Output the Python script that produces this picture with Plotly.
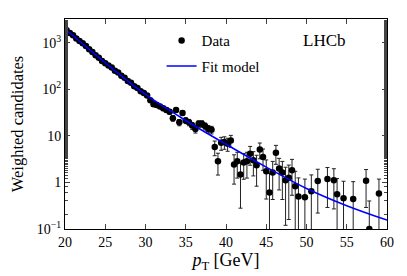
import plotly.graph_objects as go

# Data: bin centres (GeV), weighted candidates and errors
pt = [20.2, 20.6, 21.0, 21.4, 21.8, 22.2, 22.6, 23.0, 23.4, 23.8,
      24.2, 24.6, 25.0, 25.4, 25.8, 26.2, 26.6, 27.0, 27.4, 27.8,
      28.2, 28.6, 29.0, 29.4, 29.8, 30.2, 30.6, 31.0, 31.4, 31.8,
      32.2, 32.6, 33.0, 33.4, 33.8, 34.2, 34.6, 35.0, 35.4, 35.8,
      36.2, 36.6, 37.0, 37.4, 37.8, 38.2, 38.6, 39.0, 39.4, 39.8,
      40.2, 40.6, 41.0, 41.4, 41.8, 42.2, 42.6, 43.0, 43.4, 43.8,
      44.2, 44.6, 45.0, 45.4, 45.8, 46.2, 46.6, 47.0, 47.4, 47.8,
      48.2, 48.6, 49.0, 49.8, 50.6, 51.4, 52.6, 53.4, 53.8, 54.6,
      55.8, 57.4, 57.8, 59.0]
counts = [1862, 1622, 1445, 1230, 1096, 977, 851, 724, 631, 537,
          479, 407, 363, 324, 295, 251, 229, 195, 178, 151,
          138, 117, 107, 91, 83, 74, 58, 48, 46, 43,
          39, 36, 33, 24, 36, 19.5, 31, 21.4, 19.5, 16.6,
          14.1, 18.2, 18.2, 16.2, 14.1, 13.5, 5.75, 2.84, 7.1, 7.35,
          6.76, 7.94, 2.42, 2.84, 1.48, 2.67, 2.84, 4.14, 2.98, 2.33,
          5.12, 3.52, 1.74, 0.61, 1.63, 4.35, 1.99, 1.63, 1.12, 1.26,
          1.83, 0.83, 0.50, 0.48, 0.65, 1.07, 1.19, 1.12, 0.56, 0.46,
          0.44, 1.09, 0.10, 0.58]
errors = [30, 28, 26, 24, 22, 21, 20, 18, 17, 16,
          15, 14, 13, 12, 12, 11, 10, 9.5, 9, 8.3,
          8, 7.2, 7, 6.4, 6.1, 5.8, 5.1, 4.7, 4.6, 4.4,
          4.2, 4.0, 3.9, 3.3, 4.0, 3.0, 3.7, 3.1, 3.0, 2.8,
          2.6, 2.9, 2.9, 2.7, 2.6, 2.5, 2.0, 1.4, 2.2, 2.2,
          2.1, 2.3, 1.5, 1.6, 1.2, 1.5, 1.6, 1.8, 1.6, 1.5,
          1.9, 1.7, 1.3, 0.95, 1.2, 1.9, 1.3, 1.2, 1.0, 1.1,
          1.3, 0.9, 0.75, 0.7, 0.8, 0.85, 0.9, 0.85, 0.65, 0.6,
          0.6, 0.8, 0.3, 0.6]

# Fit model sampled along pT
fit_pt = [20, 25, 30, 35, 40, 45, 50, 55, 60]
fit_val = [1995, 372, 77.6, 21.4, 6.61, 2.14, 0.741, 0.316, 0.155]

ytick_vals = [0.1, 1, 10, 100, 1000]
ytick_text = ["10<sup>\u22121</sup>", "1", "10", "10<sup>2</sup>", "10<sup>3</sup>"]
xtick_vals = [20, 25, 30, 35, 40, 45, 50, 55, 60]

font_family = "Liberation Serif"

fig = go.Figure()
fig.add_trace(go.Scatter(
    x=pt, y=counts, mode="markers", name="Data",
    marker=dict(color="black", size=6.5),
    error_y=dict(type="data", array=errors, color="#222222", thickness=1, width=2),
    legendgroup="a",
))
fig.add_trace(go.Scatter(
    x=fit_pt, y=fit_val, mode="lines", name="Fit model",
    line=dict(color="#0000ff", width=1.5, shape="spline"),
    legendgroup="b",
))

fig.add_annotation(text="LHCb", x=0.807, y=0.90, xref="paper", yref="paper",
                   xanchor="center", yanchor="middle",
                   showarrow=False, font=dict(size=17, family=font_family, color="black"))

fig.update_layout(
    width=407, height=276,
    margin=dict(l=65, r=20, t=19, b=45),
    paper_bgcolor="white", plot_bgcolor="white",
    font=dict(family=font_family, size=14, color="black"),
    showlegend=True,
    legend=dict(x=0.30, y=0.975, xanchor="left", yanchor="top",
                bgcolor="rgba(0,0,0,0)", traceorder="grouped", tracegroupgap=3,
                font=dict(size=15, family=font_family)),
    xaxis=dict(range=[20, 60], tickvals=xtick_vals, ticks="inside", ticklen=5,
               showline=True, linecolor="black", linewidth=1, mirror="ticks",
               showgrid=False, zeroline=False,
               title=dict(text="<i>p</i><sub>T</sub> [GeV]", standoff=2, font=dict(size=18))),
    yaxis=dict(type="log", range=[-1, 3.51], tickvals=ytick_vals, ticktext=ytick_text,
               ticks="inside", ticklen=5,
               showline=True, linecolor="black", linewidth=1, mirror="ticks",
               showgrid=False, zeroline=False,
               title=dict(text="Weighted candidates", standoff=8, font=dict(size=16.5)),
               minor=dict(ticks="inside", ticklen=3, showgrid=False)),
)

fig.write_html("out.html", post_script="document.body.style.margin='0';",
               config={"displayModeBar": False})
